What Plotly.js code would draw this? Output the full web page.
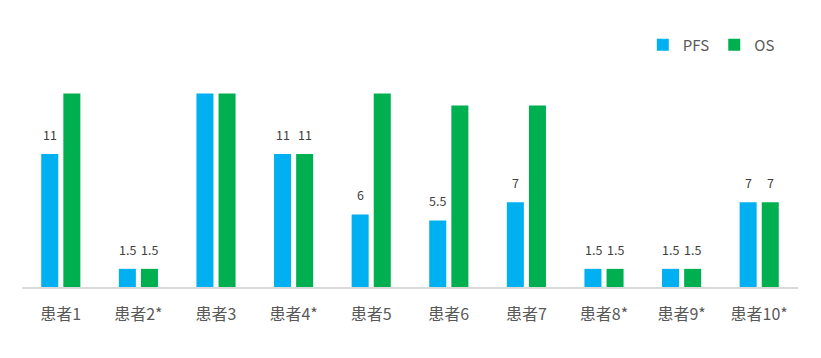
<!DOCTYPE html>
<html>
<head>
<meta charset="utf-8">
<script src="https://cdn.plot.ly/plotly-3.0.1.min.js"></script>
<style>html,body{margin:0;padding:0;background:#fff;}#chart{width:821px;height:358px;}</style>
</head>
<body>
<div id="chart"></div>
<script>
const categories = ['患者1','患者2*','患者3','患者4*','患者5','患者6','患者7','患者8*','患者9*','患者10*'];
const pfsValues = [11, 1.5, 16, 11, 6, 5.5, 7, 1.5, 1.5, 7];
const osValues  = [16, 1.5, 16, 11, 16, 15, 15, 1.5, 1.5, 7];
const pfsLabels = ['11','1.5','','11','6','5.5','7','1.5','1.5','7'];
const osLabels  = ['','1.5','','11','','','','1.5','1.5','7'];

const FONT = '"Segoe UI", "Noto Sans CJK SC", "Noto Sans", sans-serif';

const traces = [
  {type:'bar', name:'PFS', x:categories, y:pfsValues, marker:{color:'#00B0F0'}, hoverinfo:'none'},
  {type:'bar', name:'OS', x:categories, y:osValues, marker:{color:'#00B050'}, hoverinfo:'none'}
];

const annotations = [];
function addLabels(labels, values, shift){
  labels.forEach((t,i)=>{
    if(!t) return;
    annotations.push({x:categories[i], y:values[i], xref:'x', yref:'y', text:t, showarrow:false,
      xshift:shift, yshift:8, yanchor:'bottom', font:{size:12.5, color:'#404040', family:FONT}});
  });
}
addLabels(pfsLabels, pfsValues, -11);
addLabels(osLabels, osValues, 11);

const layout = {
  width:821, height:358,
  margin:{l:22, r:23, t:45, b:71},
  paper_bgcolor:'#fff', plot_bgcolor:'#fff',
  font:{family:FONT, color:'#595959'},
  bargap:0.43, bargroupgap:0.23,
  showlegend:true,
  legend:{orientation:'h', x:0.80, xanchor:'left', y:1.0, yanchor:'middle',
    font:{size:15, color:'#595959', family:FONT}, itemwidth:30, bgcolor:'rgba(0,0,0,0)'},
  xaxis:{type:'category', showgrid:false, showline:true, linecolor:'#D9D9D9', linewidth:2,
    ticks:'', tickfont:{size:16, color:'#595959', family:FONT}, ticklabelstandoff:12, fixedrange:true},
  yaxis:{range:[0,20], showgrid:false, showticklabels:false, zeroline:false, showline:false, fixedrange:true},
  annotations:annotations
};
Plotly.newPlot('chart', traces, layout, {displayModeBar:false, staticPlot:true});
</script>
</body>
</html>
